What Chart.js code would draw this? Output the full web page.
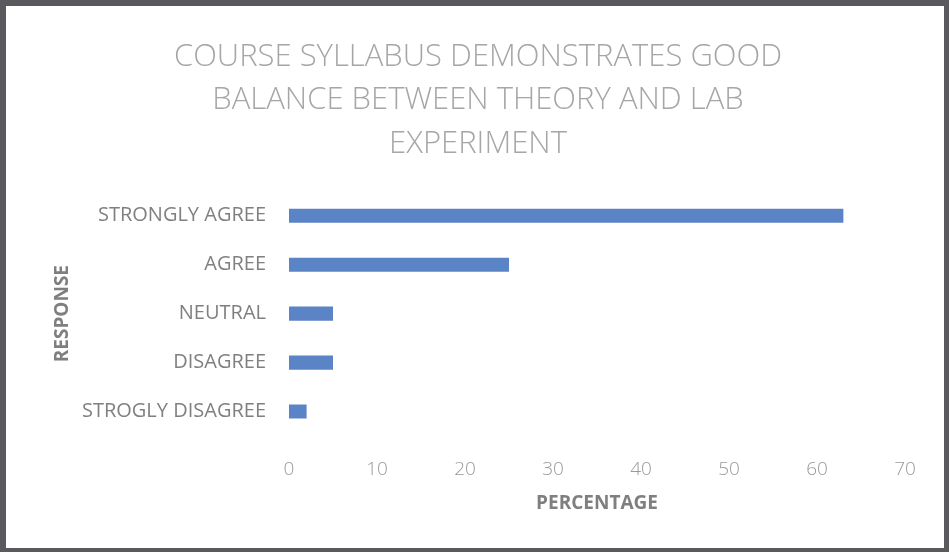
<!DOCTYPE html>
<html>
<head>
<meta charset="utf-8">
<script src="https://cdn.jsdelivr.net/npm/chart.js@4"></script>
<style>
    html, body { margin: 0; padding: 0; background: #5a5a5e; }
    #frame {
        position: absolute; left: 6px; top: 6px;
        width: 938px; height: 542px; background: #fff;
    }
</style>
</head>
<body>
<div id="frame"><canvas id="barChart" width="938" height="542"></canvas></div>
<script>
const categories = ['STRONGLY AGREE', 'AGREE', 'NEUTRAL', 'DISAGREE', 'STROGLY DISAGREE'];
const percentages = [63, 25, 5, 5, 2];
const titleLines = ['COURSE SYLLABUS DEMONSTRATES GOOD', 'BALANCE BETWEEN THEORY AND LAB', 'EXPERIMENT'];

document.addEventListener("DOMContentLoaded", function() {
    const ctx = document.getElementById('barChart').getContext('2d');

    new Chart(ctx, {
        type: 'bar',
        data: {
            labels: categories,
            datasets: [{
                data: percentages,
                backgroundColor: '#5b84c6',
                borderWidth: 0,
                barPercentage: 0.9,
                categoryPercentage: 0.32
            }]
        },
        options: {
            indexAxis: 'y',
            responsive: false,
            animation: false,
            layout: { padding: { left: 45, right: 39, top: 30, bottom: 33 } },
            plugins: {
                legend: { display: false },
                tooltip: { enabled: false },
                title: {
                    display: true,
                    text: titleLines,
                    color: '#a6a6a6',
                    font: { family: 'Open Sans', size: 31, weight: '300', lineHeight: 1.39 },
                    padding: { top: 0, bottom: 26 }
                }
            },
            scales: {
                x: {
                    min: 0,
                    max: 70,
                    ticks: { stepSize: 10, color: '#9a9a9a', font: { family: 'Open Sans', size: 19, weight: '300' }, padding: 22 },
                    grid: { display: false, drawTicks: false },
                    border: { display: false },
                    title: {
                        display: true,
                        text: 'PERCENTAGE',
                        color: '#7f7f7f',
                        font: { family: 'Open Sans', size: 19, weight: 'bold' },
                        padding: { top: 0, bottom: 0 }
                    },
                    afterFit: function(scale) { scale.height = 79; }
                },
                y: {
                    ticks: { color: '#808080', font: { family: 'Open Sans', size: 20 }, padding: 23 },
                    grid: { display: false, drawTicks: false },
                    border: { display: false },
                    title: {
                        display: true,
                        text: 'RESPONSE',
                        color: '#7f7f7f',
                        font: { family: 'Open Sans', size: 19, weight: 'bold' },
                        padding: { top: 0, bottom: 0 }
                    },
                    afterFit: function(scale) { scale.width = 238; }
                }
            }
        }
    });
});
</script>
</body>
</html>
